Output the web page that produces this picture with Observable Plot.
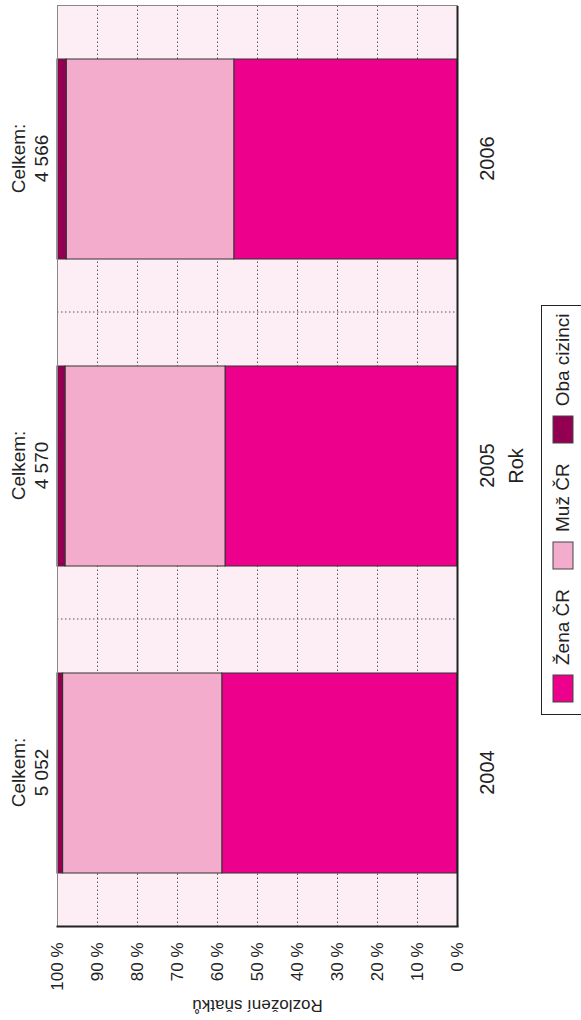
<!DOCTYPE html>
<html><head><meta charset="utf-8">
<script src="https://cdn.jsdelivr.net/npm/d3@7"></script>
<script src="https://cdn.jsdelivr.net/npm/@observablehq/plot@0.6"></script>
<style>
html,body{margin:0;padding:0;background:#fff;overflow:hidden;width:581px;height:1020px}
#rot{position:absolute;left:0;top:0;width:1020px;height:581px;transform-origin:0 0;transform:translate(0,1020px) rotate(-90deg);font-family:"Liberation Sans",Arial,sans-serif;color:#222}
#legendbox{position:absolute;left:305px;top:541px;width:410px;height:110px;border:1px solid #222;box-sizing:border-box;padding:4px 0 0 12px;background:#fff;white-space:nowrap}
#legendbox > div{flex-wrap:nowrap !important;white-space:nowrap}
.lg-swatch{margin-right:20px !important;white-space:nowrap}
.lg-swatch > svg{margin-right:10px !important;flex-shrink:0}
.lg-swatch > svg rect{stroke:#444;stroke-width:1}
</style></head><body>
<div id="rot"><div id="chart"></div><div id="legendbox"></div></div>
<script>
const years = ["2004", "2005", "2006"];
const totals = [5052, 4570, 4566];
const series = ["Žena ČR", "Muž ČR", "Oba cizinci"];
const zena = [58.8, 58.0, 55.8];
const muz = [39.8, 40.0, 41.9];
const oba = [1.4, 2.0, 2.3];
const yTicks = [0, 10, 20, 30, 40, 50, 60, 70, 80, 90, 100];
const yGrid = [10, 20, 30, 40, 50, 60, 70, 80, 90];
const colors = ["#ec008c", "#f4accd", "#930051"];

const W = 1020, H = 541, ML = 93, MR = 6, MT = 57, MB = 84;
const step = (W - ML - MR) / years.length;
const fmt = d3.formatLocale({thousands: " ", grouping: [3], decimal: ","}).format(",d");

const rows = years.flatMap((yr, i) => [
  {year: yr, series: series[0], value: zena[i]},
  {year: yr, series: series[1], value: muz[i]},
  {year: yr, series: series[2], value: oba[i]}
]);
const labels = years.map((yr, i) => ({year: yr, text: "Celkem:\n" + fmt(totals[i])}));

const font = '"Liberation Sans", Arial, sans-serif';
const chart = Plot.plot({
  width: W, height: H,
  marginLeft: ML, marginRight: MR, marginTop: MT, marginBottom: MB,
  style: {fontFamily: font, fontSize: "18px", color: "#222", background: "transparent"},
  x: {domain: years, paddingInner: 0.35, paddingOuter: 0.175},
  y: {domain: [0, 100]},
  color: {domain: series, range: colors},
  marks: [
    Plot.frame({fill: "#fdeef5", stroke: null}),
    Plot.gridY(yGrid, {stroke: "#555", strokeOpacity: 1, strokeWidth: 1, strokeDasharray: "1.5,2.5"}),
    Plot.ruleX(years.slice(0, -1), {dx: step / 2, stroke: "#555", strokeWidth: 1, strokeDasharray: "1.5,2.5"}),
    Plot.barY(rows, {x: "year", y: "value", fill: "series", stroke: "#333", strokeWidth: 1}),
    Plot.frame({stroke: "#888", strokeWidth: 1}),
    Plot.ruleY([0], {stroke: "#222", strokeWidth: 2}),
    Plot.frame({anchor: "left", stroke: "#222", strokeWidth: 2}),
    Plot.text(labels, {x: "year", text: "text", frameAnchor: "top", lineAnchor: "bottom", dy: -10, fontSize: 19, lineHeight: 1.2, fill: "#222"}),
    Plot.axisX({tickSize: 0, tickPadding: 22, fontSize: 20, label: "Rok", labelAnchor: "center", labelOffset: 65}),
    Plot.axisY({ticks: yTicks, tickFormat: d => d + " %", tickSize: 0, tickPadding: 16, fontSize: 17, label: "Rozložení sňatků", labelArrow: false, labelAnchor: "center", labelOffset: 86})
  ]
});
document.getElementById("chart").appendChild(chart);

const legend = Plot.legend({
  color: {domain: series, range: colors},
  legend: "swatches",
  swatchWidth: 27, swatchHeight: 20,
  className: "lg",
  style: {fontFamily: font, fontSize: "19px", color: "#222", margin: "0"}
});
document.getElementById("legendbox").appendChild(legend);
</script>
</body></html>
